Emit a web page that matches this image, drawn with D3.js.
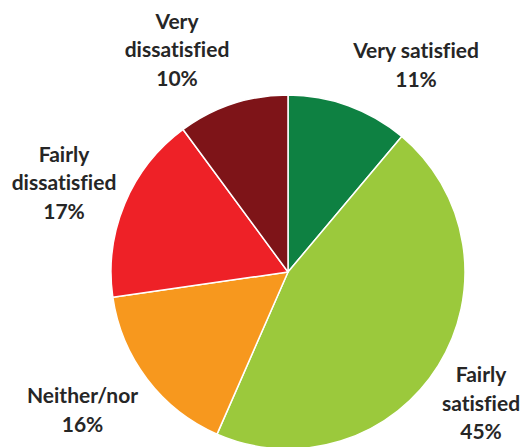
<!DOCTYPE html>
<html>
<head>
<meta charset="utf-8">
<script src="https://cdn.jsdelivr.net/npm/d3@7"></script>
<style>
  html, body { margin: 0; padding: 0; background: #fff; }
  svg { display: block; }
  text.label { font-variant-ligatures: none; font-feature-settings: "liga" 0; }
</style>
</head>
<body>
<svg id="chart" width="529" height="447"></svg>
<script>
// Satisfaction shares, clockwise from 12 o'clock
const categories = ["Very satisfied", "Fairly satisfied", "Neither/nor", "Fairly dissatisfied", "Very dissatisfied"];
const values = [11, 45, 16, 17, 10];
const colors = ["#0e8142", "#9bc93c", "#f7981e", "#ee2127", "#7e1418"];

// Label text split into lines, and where each label block sits
const labelLines = [
  ["Very satisfied"],
  ["Fairly", "satisfied"],
  ["Neither/nor"],
  ["Fairly", "dissatisfied"],
  ["Very", "dissatisfied"]
];
// [center x, baseline of first line] relative to pie center
const labelAnchors = [
  [128, -214],
  [193, 110],
  [-205.5, 131],
  [-224, -110.5],
  [-111, -243.5]
];

const width = 529, height = 447;
const cx = 288, cy = 272, radius = 177;
const lineGap = 28.5;

const svg = d3.select("#chart");
const g = svg.append("g").attr("transform", `translate(${cx},${cy})`);

const pie = d3.pie().sort(null).value(d => d.value);
const arc = d3.arc().innerRadius(0).outerRadius(radius);

const data = categories.map((c, i) => ({ name: c, value: values[i], color: colors[i] }));

g.selectAll("path.slice")
  .data(pie(data))
  .join("path")
  .attr("class", "slice")
  .attr("d", arc)
  .attr("fill", d => d.data.color)
  .attr("stroke", "#ffffff")
  .attr("stroke-width", 1.5)
  .attr("stroke-linejoin", "round");

const labels = g.selectAll("text.label")
  .data(data)
  .join("text")
  .attr("class", "label")
  .attr("text-anchor", "middle")
  .attr("font-family", "Lato, 'Open Sans', sans-serif")
  .attr("font-weight", "bold")
  .attr("font-size", 21)
  .attr("fill", "#262626");

labels.each(function(d, i) {
  const t = d3.select(this);
  const [x, y] = labelAnchors[i];
  const lines = labelLines[i].concat([d.value + "%"]);
  lines.forEach((ln, k) => {
    t.append("tspan")
      .attr("x", x)
      .attr("y", y + k * lineGap)
      .text(ln);
  });
});
</script>
</body>
</html>
